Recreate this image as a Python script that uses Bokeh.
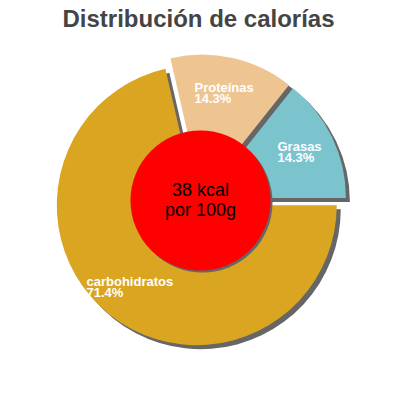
import math
from bokeh.plotting import figure
from bokeh.models import Range1d
from bokeh.core.properties import value
from bokeh.embed import file_html
from bokeh.resources import INLINE

# data
categories = ["carbohidratos", "Proteínas", "Grasas"]
percents = [71.4, 14.3, 14.3]
percent_labels = ["71.4%", "14.3%", "14.3%"]
colors = ["#DAA520", "#EEC591", "#7BC4CE"]
title_text = "Distribución de calorías"
center_lines = ["38 kcal", "por 100g"]

# geometry (data units == reference pixels, y flipped)
cx, cy = 200, 200
R = 140
explode = 6
shadow = 4

def Y(sy):
    return 400 - sy

p = figure(width=384, height=384, x_range=Range1d(0, 384), y_range=Range1d(16, 400),
           output_backend="svg", toolbar_location=None, min_border=0)
p.axis.visible = False
p.grid.visible = False
p.outline_line_color = None
p.background_fill_color = "white"
p.border_fill_color = "white"

total = sum(percents)
starts, ends, xs, ys = [], [], [], []
cum = 0.0
for v in percents:
    a_end = -cum / total * 2 * math.pi
    a_start = -(cum + v) / total * 2 * math.pi
    mid = (a_start + a_end) / 2
    starts.append(a_start)
    ends.append(a_end)
    xs.append(cx + explode * math.cos(mid))
    ys.append(Y(cy) + explode * math.sin(mid))
    cum += v

# shadows
p.wedge(x=[x + shadow for x in xs], y=[y - shadow for y in ys], radius=R,
        start_angle=starts, end_angle=ends, direction="anticlock",
        fill_color="#666666", line_color=None)
# slices
p.wedge(x=xs, y=ys, radius=R, start_angle=starts, end_angle=ends,
        direction="anticlock", fill_color=colors, line_color=None)

# center circle
p.circle(x=[cx + 2], y=[Y(cy) - 2], radius=70, fill_color="#666666", line_color=None)
p.circle(x=[cx], y=[Y(cy)], radius=70, fill_color="#FF0000", line_color=None)

# slice labels (name line and percent line)
label_x = [86, 194, 277]
name_base = [281, 87, 146]
pct_base = [292, 98, 157]
common = dict(text_font=value("Liberation Sans"), text_font_style="bold",
              text_font_size="13px", text_color="white",
              text_baseline="alphabetic", text_align="left")
p.text(x=label_x, y=[Y(b) for b in name_base], text=categories, **common)
p.text(x=label_x, y=[Y(b) for b in pct_base], text=percent_labels, **common)

# center text
p.text(x=[cx, cx], y=[Y(189.5), Y(209.5)], text=center_lines,
       text_font=value("Liberation Sans"), text_font_size="18px",
       text_color="black", text_baseline="alphabetic", text_align="center")

# title
p.text(x=[198], y=[Y(18)], text=[title_text],
       text_font=value("Liberation Sans"), text_font_style="bold",
       text_font_size="24px", text_color="#444444", text_baseline="alphabetic",
       text_align="center")

open("out.html", "w").write(file_html(p, INLINE))
